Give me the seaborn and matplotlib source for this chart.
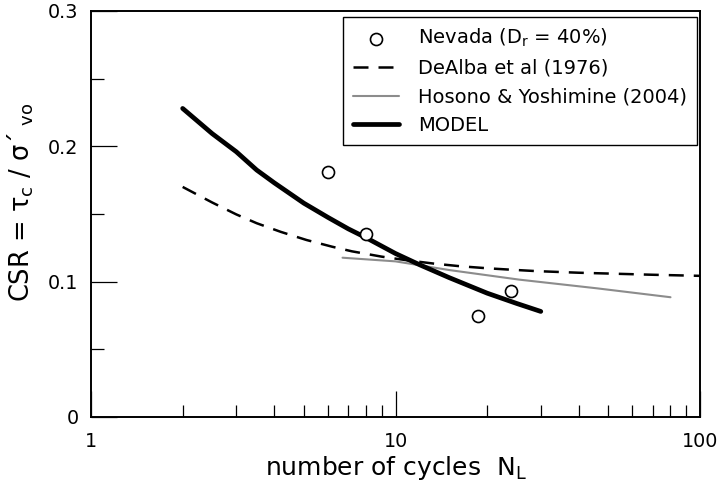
import numpy as np
import pandas as pd
import matplotlib
matplotlib.use("Agg")
import matplotlib.pyplot as plt
import seaborn as sns
from matplotlib.ticker import LogLocator, NullFormatter, FixedLocator

# ---- data ----
nevada_n = [6.0, 8.0, 18.6, 23.9]
nevada_csr = [0.181, 0.135, 0.0745, 0.093]

dealba_n = [2, 2.5, 3, 3.5, 4.2, 5.1, 6.2, 7.2, 9, 11, 13.3, 16.3, 20, 23.7, 29, 40, 52, 70, 100]
dealba_csr = [0.170, 0.1585, 0.1497, 0.1432, 0.1368, 0.1308, 0.1258, 0.1224, 0.1185, 0.1157, 0.1134, 0.1114, 0.1099, 0.1089, 0.1078, 0.1066, 0.1059, 0.1051, 0.1043]

hosono_n = [6.7, 10, 15, 25.5, 45.8, 80]
hosono_csr = [0.1177, 0.1150, 0.1086, 0.1015, 0.0951, 0.0885]

model_n = [2, 2.5, 3, 3.5, 4, 5, 6, 7, 8, 10, 12, 15, 20, 25, 30]
model_csr = [0.228, 0.2094, 0.196, 0.1825, 0.173, 0.158, 0.1475, 0.139, 0.1325, 0.1208, 0.1125, 0.103, 0.0915, 0.0839, 0.078]

y_ticks = [0, 0.1, 0.2, 0.3]
y_ticklabels = ["0", "0.1", "0.2", "0.3"]
x_ticks = [1, 10, 100]
x_ticklabels = ["1", "10", "100"]

sns.set_style("ticks")
plt.rcParams["font.family"] = ["DejaVu Sans"]
plt.rcParams["mathtext.fontset"] = "dejavusans"
plt.rcParams["text.color"] = "black"
plt.rcParams["axes.labelcolor"] = "black"
plt.rcParams["xtick.color"] = "black"
plt.rcParams["ytick.color"] = "black"

fig = plt.figure(figsize=(7.17, 4.88), dpi=100)
ax = fig.add_axes([91/717, 1-417/488, (700-91)/717, (417-11)/488])

sns.lineplot(x=dealba_n, y=dealba_csr, ax=ax, color="black", lw=1.8,
             linestyle=(0, (6, 4)), label="DeAlba et al (1976)", sort=False)
sns.lineplot(x=hosono_n, y=hosono_csr, ax=ax, color="#8c8c8c", lw=1.5,
             label="Hosono & Yoshimine (2004)", sort=False)
sns.lineplot(x=model_n, y=model_csr, ax=ax, color="black", lw=3.4,
             label="MODEL", sort=False)
sns.scatterplot(x=nevada_n, y=nevada_csr, ax=ax, marker="o", s=75,
                facecolor="white", edgecolor="black", linewidth=1.2,
                label=r"Nevada ($\mathregular{D_r}$ = 40%)", zorder=5)

ax.set_xscale("log")
ax.set_xlim(1, 100)
ax.set_ylim(0, 0.3)

ax.xaxis.set_major_locator(FixedLocator(x_ticks))
ax.set_xticklabels(x_ticklabels)
ax.xaxis.set_minor_locator(LogLocator(base=10, subs=np.arange(2, 10)))
ax.xaxis.set_minor_formatter(NullFormatter())
ax.set_yticks(y_ticks)
ax.set_yticklabels(y_ticklabels)
ax.yaxis.set_minor_locator(FixedLocator([0.05, 0.15, 0.25]))

ax.tick_params(axis="both", which="major", direction="in", length=19, width=0.9,
               labelsize=13.8, top=False, right=False, color="black", labelcolor="black")
ax.tick_params(axis="both", which="minor", direction="in", length=9, width=0.9,
               top=False, right=False, color="black")
ax.tick_params(axis="x", which="major", pad=11)
ax.tick_params(axis="y", which="major", pad=9)

for sp in ax.spines.values():
    sp.set_visible(True)
    sp.set_linewidth(1.4)
    sp.set_color("black")

ax.set_xlabel(r"number of cycles  $\mathregular{N_L}$", fontsize=18, labelpad=2)
ax.set_ylabel(r"CSR = $\mathregular{τ_c}$ / $\mathregular{σ´_{\ vo}}$", fontsize=18.5)
ax.yaxis.set_label_coords(-0.09, 0.53)

h, l = ax.get_legend_handles_labels()
order = [3, 0, 1, 2]
leg = ax.legend([h[i] for i in order], [l[i] for i in order],
                loc="upper right", bbox_to_anchor=(0.995, 0.985),
                borderaxespad=0, fontsize=14, frameon=True, fancybox=False,
                edgecolor="black", handlelength=2.35, handletextpad=1.0,
                labelspacing=0.5, borderpad=0.5)
leg.get_frame().set_linewidth(1.0)
leg.get_frame().set_alpha(1)

fig.savefig("out.png", dpi=100)
